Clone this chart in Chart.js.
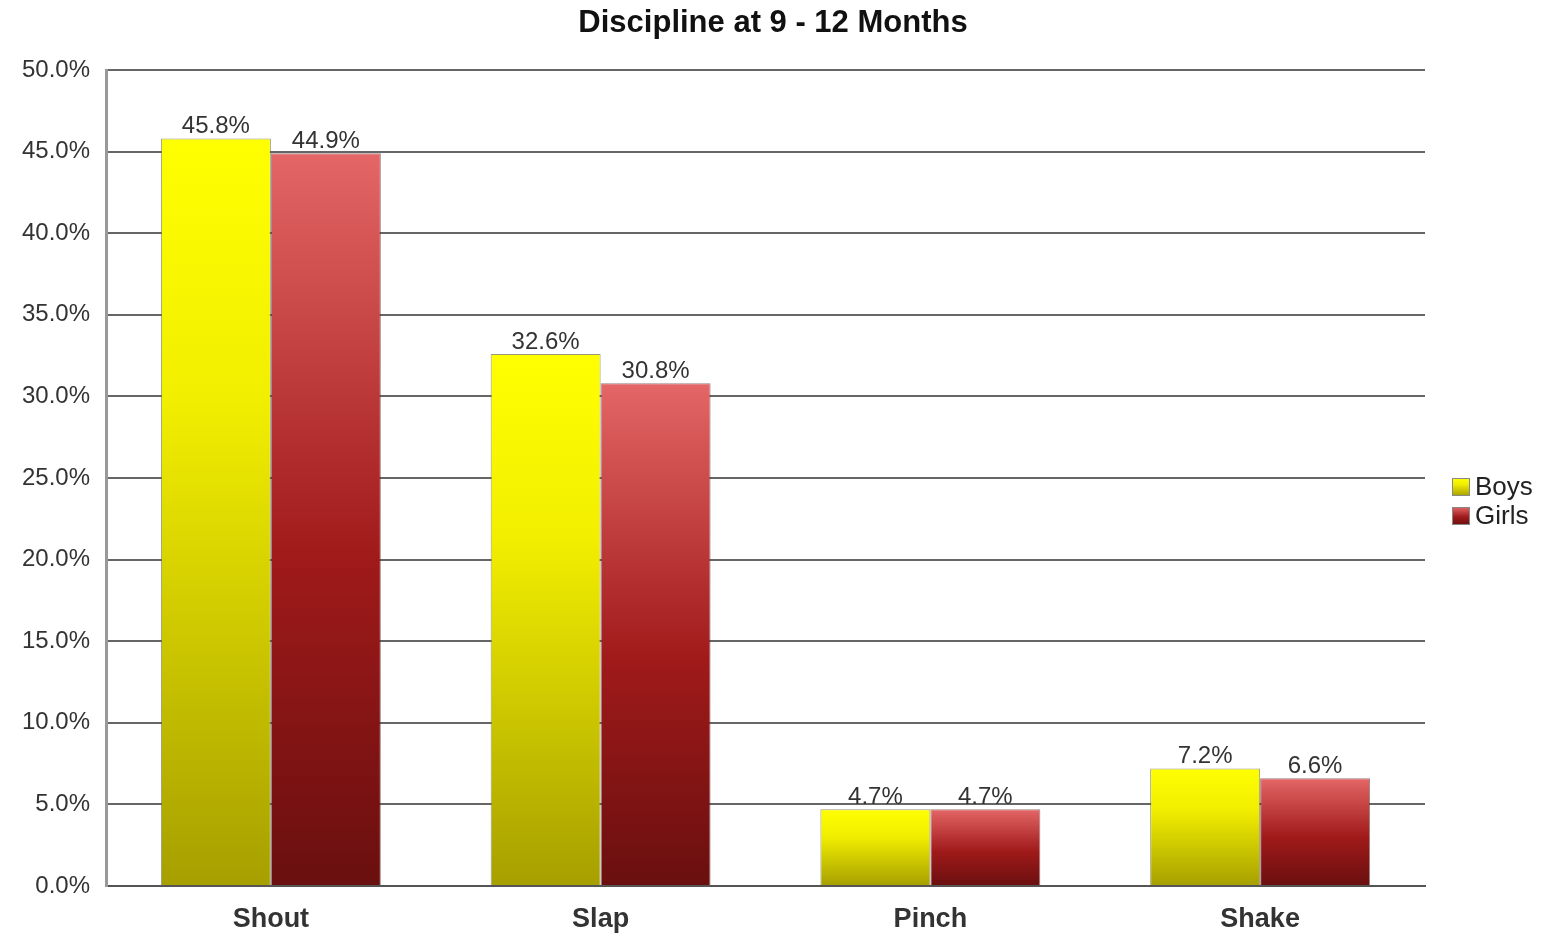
<!DOCTYPE html>
<html>
<head>
<meta charset="utf-8">
<title>Discipline at 9 - 12 Months</title>
<script src="https://cdn.jsdelivr.net/npm/chart.js@4"></script>
<style>
  html, body { margin: 0; padding: 0; background: #fff; }
  #chart { display: block; }
</style>
</head>
<body>
<canvas id="chart" width="1546" height="933"></canvas>
<script>
const categories = ['Shout', 'Slap', 'Pinch', 'Shake'];
const boys = [45.8, 32.6, 4.7, 7.2];
const girls = [44.9, 30.8, 4.7, 6.6];
const yTicks = [0, 5, 10, 15, 20, 25, 30, 35, 40, 45, 50];
const seriesNames = ['Boys', 'Girls'];
const chartTitle = 'Discipline at 9 - 12 Months';

const FONT = '"Liberation Sans", Arial, sans-serif';

// Verlauf pro Balken, von oben nach unten
const barGradient = (stops, solid) => (ctx) => {
  const chart = ctx.chart;
  if (!chart.chartArea || ctx.dataIndex === undefined) return solid;
  const y = chart.scales.y;
  const top = y.getPixelForValue(ctx.raw);
  const bottom = y.getPixelForValue(0);
  const g = chart.ctx.createLinearGradient(0, top, 0, bottom);
  stops.forEach(([pos, color]) => g.addColorStop(pos, color));
  return g;
};

const boysStops = [[0, '#ffff00'], [0.35, '#f2ee00'], [1, '#a69f00']];
const girlsStops = [[0, '#e46666'], [0.55, '#a01a1a'], [1, '#6a0f0f']];

const valueLabels = {
  id: 'valueLabels',
  afterDatasetsDraw(chart) {
    const c = chart.ctx;
    c.save();
    c.font = '24px ' + FONT;
    c.fillStyle = '#333';
    c.textAlign = 'center';
    c.textBaseline = 'bottom';
    chart.data.datasets.forEach((ds, i) => {
      chart.getDatasetMeta(i).data.forEach((bar, j) => {
        c.fillText(ds.data[j].toFixed(1) + '%', bar.x, bar.y);
      });
    });
    c.restore();
  }
};

// Titel mittig über die ganze Breite, Legende rechts
const frame = {
  id: 'frame',
  afterDraw(chart) {
    const c = chart.ctx;
    c.save();
    c.font = 'bold 31px ' + FONT;
    c.fillStyle = '#111';
    c.textAlign = 'center';
    c.textBaseline = 'middle';
    c.fillText(chartTitle, chart.width / 2, 23);

    const left = chart.chartArea.right + 27;
    const stops = [boysStops, girlsStops];
    c.font = '26px ' + FONT;
    c.textAlign = 'left';
    seriesNames.forEach((name, i) => {
      const cy = 487 + i * 29;
      const g = c.createLinearGradient(0, cy - 9, 0, cy + 9);
      stops[i].forEach(([p, col]) => g.addColorStop(p, col));
      c.fillStyle = g;
      c.fillRect(left, cy - 9, 18, 18);
      c.strokeStyle = '#888';
      c.lineWidth = 1;
      c.strokeRect(left + 0.5, cy - 8.5, 17, 17);
      c.fillStyle = '#222';
      c.fillText(name, left + 23, cy + 1);
    });
    c.restore();
  }
};

new Chart(document.getElementById('chart').getContext('2d'), {
  type: 'bar',
  data: {
    labels: categories,
    datasets: [
      {
        label: seriesNames[0],
        data: boys,
        backgroundColor: barGradient(boysStops, '#e8e400'),
        borderColor: 'rgba(110,110,70,0.7)',
        borderWidth: 1,
        categoryPercentage: 0.667,
        barPercentage: 1.0,
      },
      {
        label: seriesNames[1],
        data: girls,
        backgroundColor: barGradient(girlsStops, '#a01a1a'),
        borderColor: 'rgba(90,40,40,0.6)',
        borderWidth: 1,
        categoryPercentage: 0.667,
        barPercentage: 1.0,
      },
    ],
  },
  options: {
    responsive: false,
    devicePixelRatio: 1,
    animation: false,
    layout: { padding: { left: 0, right: 121, top: 70, bottom: 0 } },
    scales: {
      x: {
        grid: { display: false },
        border: { color: '#555', width: 2 },
        afterFit: (axis) => { axis.height = 47; },
        ticks: {
          color: '#333',
          font: { family: FONT, size: 27, weight: 'bold' },
          padding: 9,
        },
      },
      y: {
        min: 0,
        max: 50,
        afterBuildTicks: (axis) => { axis.ticks = yTicks.map(v => ({ value: v })); },
        afterFit: (axis) => { axis.width = 106; },
        grid: { color: '#666', lineWidth: 2, drawTicks: false },
        border: { color: '#999', width: 3 },
        ticks: {
          color: '#333',
          padding: 16,
          font: { family: FONT, size: 24 },
          callback: (v) => v.toFixed(1) + '%',
        },
      },
    },
    plugins: {
      title: { display: false },
      legend: { display: false },
      tooltip: { enabled: false },
    },
  },
  plugins: [valueLabels, frame],
});
</script>
</body>
</html>
